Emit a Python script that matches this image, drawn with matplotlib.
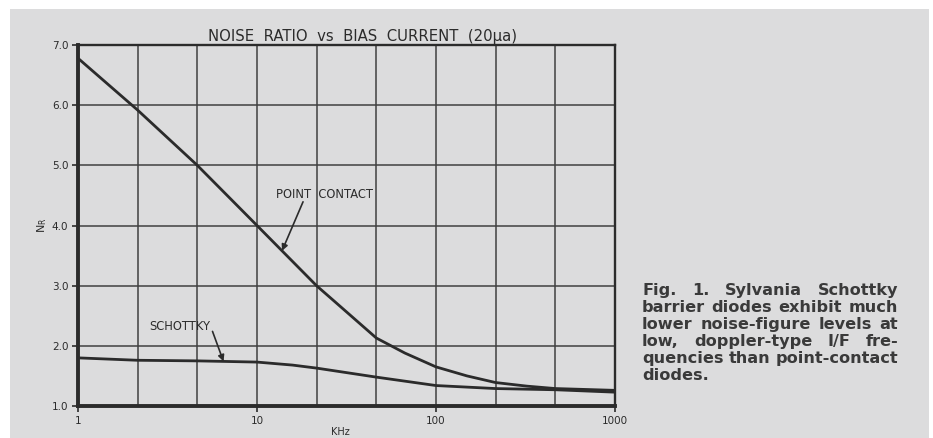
import numpy as np
import matplotlib.pyplot as plt
from matplotlib.patches import Rectangle

# Curve readings, frequency in KHz against noise ratio
PC_FREQ = [1, 2.15, 4.64, 10, 21.5, 26.6, 46.4, 67, 100, 149, 215, 322, 464, 1000]
POINT_CONTACT = [6.78, 5.92, 5.0, 4.0, 3.0, 2.76, 2.13, 1.88, 1.65, 1.50, 1.39, 1.33, 1.29, 1.26]

SCH_FREQ = [1, 2.15, 4.64, 10, 15.8, 21.5, 46.4, 100, 215, 464, 1000]
SCHOTTKY = [1.80, 1.76, 1.75, 1.73, 1.68, 1.63, 1.48, 1.34, 1.29, 1.27, 1.23]

X_TICKS = [1, 10, 100, 1000]
X_TICK_LABELS = ["1", "10", "100", "1000"]
Y_TICKS = [1.0, 2.0, 3.0, 4.0, 5.0, 6.0, 7.0]

TITLE = "NOISE  RATIO  vs  BIAS  CURRENT  (20\u00b5a)"
CAPTION = [
    "Fig. 1. Sylvania Schottky",
    "barrier diodes exhibit much",
    "lower noise-figure levels at",
    "low, doppler-type I/F fre-",
    "quencies than point-contact",
    "diodes.",
]

W, H = 933, 438
PAPER = "#dcdcdd"
INK = "#2b2b2b"

fig = plt.figure(figsize=(W / 100, H / 100), dpi=100, facecolor="white")
fig.patches.append(Rectangle((10 / W, 0), 919 / W, 429 / H, transform=fig.transFigure,
                             facecolor=PAPER, edgecolor="none", zorder=-10))

ax = fig.add_axes([78 / W, 32 / H, 537 / W, 361 / H])
ax.set_facecolor(PAPER)
ax.set_xscale("log")
ax.set_xlim(1, 1000)
ax.set_ylim(1, 7)

# three grid columns per decade
ax.set_xticks(X_TICKS)
ax.set_xticklabels(X_TICK_LABELS)
ax.set_xticks([10 ** (k / 3) for k in range(10) if k % 3], minor=True)
ax.set_yticks(Y_TICKS)
ax.set_yticklabels([f"{v:.1f}" for v in Y_TICKS])
ax.grid(True, which="both", color="#404040", lw=1.1)
ax.tick_params(which="minor", length=0)
ax.tick_params(which="major", length=4, width=1.2, color=INK, pad=3,
               labelsize=7.5, labelcolor=INK)

for side in ("left", "bottom"):
    ax.spines[side].set_linewidth(2.8)
for side in ("top", "right"):
    ax.spines[side].set_linewidth(1.7)
for sp in ax.spines.values():
    sp.set_color(INK)

ax.plot(PC_FREQ, POINT_CONTACT, color=INK, lw=2.0, zorder=3)
ax.plot(SCH_FREQ, SCHOTTKY, color=INK, lw=2.0, zorder=3)


def on_curve(xs, ys, x):
    return x, np.interp(np.log10(x), np.log10(xs), ys)


arrow = dict(arrowstyle="-|>", color=INK, lw=1.2, mutation_scale=9, shrinkA=0, shrinkB=0)
pc_tip = on_curve(PC_FREQ, POINT_CONTACT, 13.8)
ax.annotate("", xy=pc_tip, xytext=(21, 49), textcoords="offset pixels", arrowprops=arrow)
ax.annotate("POINT  CONTACT", xy=pc_tip, xytext=(42, 56), textcoords="offset pixels",
            ha="center", va="center", fontsize=8.3, color=INK)

sch_tip = on_curve(SCH_FREQ, SCHOTTKY, 6.5)
ax.annotate("", xy=sch_tip, xytext=(-11, 30), textcoords="offset pixels", arrowprops=arrow)
ax.annotate("SCHOTTKY", xy=sch_tip, xytext=(-44, 35), textcoords="offset pixels",
            ha="center", va="center", fontsize=8.3, color=INK)

ax.set_ylabel(r"$\mathregular{N_R}$", fontsize=8, color=INK, labelpad=2)
ax.set_xlabel("KHz", fontsize=7, color=INK)
ax.xaxis.set_label_coords(262 / 537, -21 / 361)
fig.text(362 / W, 1 - 36 / H, TITLE, ha="center", va="center", fontsize=10.7, color=INK)

# justified caption block
fig.canvas.draw()
rend = fig.canvas.get_renderer()
x0, x1 = 642, 898
for i, line in enumerate(CAPTION):
    y = 1 - (295 + i * 17) / H
    style = dict(fontsize=11.6, fontweight="bold", family="DejaVu Sans", color="#3a3a3a", va="baseline")
    if i == len(CAPTION) - 1:
        fig.text(x0 / W, y, line, **style)
        continue
    words = [fig.text(0, y, w, **style) for w in line.split()]
    widths = [t.get_window_extent(rend).width for t in words]
    gap = (x1 - x0 - sum(widths)) / (len(words) - 1)
    x = x0
    for t, w in zip(words, widths):
        t.set_x(x / W)
        x += w + gap

fig.savefig("out.png", dpi=100, facecolor=fig.get_facecolor())
